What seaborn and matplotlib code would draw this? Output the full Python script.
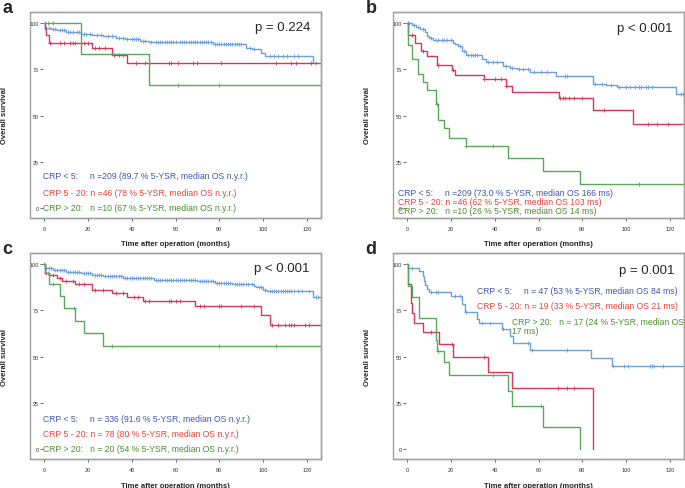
"""
Kaplan-Meier Kurven nach CRP-Gruppen (4 Panels)
"""
import numpy as np
import pandas as pd
import matplotlib
matplotlib.use("Agg")
import matplotlib.pyplot as plt
from matplotlib.patches import Rectangle
import seaborn as sns

# ---- Daten ----
groups = ["CRP < 5", "CRP 5 - 20", "CRP > 20"]

# Panel a
a_lt5_t = [0.5, 3, 6, 10, 17, 22, 27, 33, 37, 44, 48, 77, 92, 95, 99, 101, 123]
a_lt5_s = [97.5, 96.8, 96, 95.2, 94.3, 93.6, 92.8, 92, 91.3, 90.5, 90, 88.8, 86.8, 85.8, 84, 82, 78.5]
a_lt5_c = [1, 2, 4, 5, 7, 8, 9, 11, 12, 13, 15, 16, 18, 19, 21, 24, 26, 29, 31, 34, 36, 38, 40, 41,
           42, 43, 45, 46, 49, 51, 52, 53, 54, 55, 56, 57, 58, 59, 60, 62, 63, 64, 65, 66, 67, 68,
           69, 70, 71, 72, 73, 74, 75, 76, 78, 79, 80, 81, 82, 83, 84, 85, 86, 87, 88, 89, 90, 94,
           96, 103, 105, 107, 109, 111, 114, 116, 124]
a_lt5_end = 124
a_mid_t = [0.3, 1, 2, 22, 31, 38]
a_mid_s = [97, 93.5, 89, 86.7, 82.6, 78.5]
a_mid_c = [2.5, 7, 9, 12, 13, 14, 18, 20, 23, 25, 28, 32, 34, 36, 42, 46, 48, 57, 58, 61, 68, 70,
           81, 106, 113, 115, 122]
a_mid_end = 130
a_gt20_t = [17, 48]
a_gt20_s = [83.3, 66.7]
a_gt20_c = [0.5, 1.5, 4, 61, 80]
a_gt20_end = 130

# Panel b
b_lt5_t = [2, 4, 6, 8, 9, 10, 12, 21, 22, 23, 25, 27, 34, 36, 44, 47, 50, 56, 68, 85, 91, 96, 123]
b_lt5_s = [99, 98, 97, 95, 93, 92, 90.8, 89.5, 88.5, 87.5, 85, 82.5, 80.5, 78.7, 77, 75.5, 75,
           73.6, 71.5, 67.3, 66.5, 65.2, 61.5]
b_lt5_c = [0.5, 1, 3, 5, 7, 11, 13, 14, 16, 17, 18, 20, 24, 26, 28, 29, 30, 31, 32, 37, 39, 41, 45,
           48, 51, 53, 55, 58, 61, 64, 72, 73, 86, 89, 93, 97, 100, 102, 104, 106, 107, 109, 110,
           112, 125, 126]
b_lt5_end = 130
b_mid_t = [0.5, 3.5, 6.5, 9, 13.5, 20.5, 22, 35, 45, 48, 69.5, 85, 103]
b_mid_s = [93.5, 89, 84.7, 82.3, 77.5, 74.6, 72, 69.5, 65.8, 62.9, 59.5, 53, 45.2]
b_mid_c = [2, 7, 14, 21, 35, 40, 43, 45, 70, 71, 72, 74, 76, 80, 90, 110, 114, 119]
b_mid_end = 130
b_gt20_t = [0.5, 2, 5, 7, 9, 13, 14, 17, 19, 27, 46, 62, 79]
b_gt20_s = [88, 80.5, 72.5, 68, 64, 56, 47.5, 43, 38, 33.5, 27, 20, 13]
b_gt20_c = [13.5, 27, 39, 106]
b_gt20_end = 130

# Panel c
c_lt5_t = [0.5, 4, 10, 17, 22, 27, 36, 50, 70, 78, 86, 96, 97, 100, 102, 123]
c_lt5_s = [98, 96.9, 95.9, 95, 94.1, 93.5, 92.4, 91.5, 90.6, 89.9, 89.2, 88.3, 87.4, 86.1, 85.4, 82]
c_lt5_c = [1, 2, 3, 5, 6, 7, 8, 9, 11, 12, 13, 14, 15, 16, 18, 19, 20, 21, 23, 24, 25, 26, 28, 29,
           30, 31, 32, 33, 34, 35, 37, 38, 39, 40, 41, 42, 43, 44, 45, 46, 47, 48, 49, 51, 52, 53,
           54, 55, 56, 57, 58, 59, 60, 61, 62, 63, 64, 65, 66, 67, 68, 69, 71, 72, 73, 74, 75, 76,
           77, 79, 80, 81, 82, 83, 84, 85, 87, 88, 89, 90, 91, 92, 93, 95, 98, 99, 101, 103, 104,
           105, 106, 107, 108, 109, 110, 111, 112, 113, 114, 116, 118, 121, 124, 125]
c_lt5_end = 130
c_mid_t = [0.5, 2, 6, 8, 14, 22, 31, 38, 45, 69, 99, 103]
c_mid_s = [95, 94, 92.5, 91, 89.5, 86, 84.1, 82, 80, 77.1, 72.4, 67.2]
c_mid_c = [1, 4, 7, 10, 13, 16, 18, 23, 27, 33, 36, 41, 43, 46, 48, 57, 58, 60, 62, 71, 73, 80, 81,
           90, 96, 104, 107, 110, 112, 113, 114, 119, 121]
c_mid_end = 130
c_gt20_t = [0.5, 2, 7, 9, 14, 18, 27]
c_gt20_s = [95, 89, 82.5, 76.2, 69.4, 62.5, 55.5]
c_gt20_c = [0, 1.5, 4, 13.5, 31, 80, 106]
c_gt20_end = 130

# Panel d
d_lt5_t = [0.2, 5.5, 7, 7.5, 8.3, 9, 10, 20, 25, 26.5, 32, 33, 43.5, 47, 48.5, 56, 84, 93.5]
d_lt5_s = [97.9, 96.4, 93.3, 91, 88.8, 86.5, 85, 82.5, 78.4, 73.9, 70.3, 67.9, 64.9, 61.3, 57.1,
           53.5, 49.2, 44.7]
d_lt5_c = [2, 11, 13, 14, 22, 24, 27, 34, 38, 44, 55, 57, 73, 94, 99, 101, 111, 112, 113, 117]
d_lt5_end = 130
d_mid_t = [0.5, 1.5, 2.3, 3, 7, 14.5, 21, 37, 48, 85]
d_mid_s = [89.5, 78.9, 73.7, 68.4, 63.2, 56.8, 49.7, 41.4, 33.1, 0]
d_mid_c = [11, 13, 20.3, 35, 69, 73, 76]
d_mid_end = 85
d_gt20_t = [0.3, 2.4, 5.2, 13, 13.8, 17, 19, 46, 48, 62, 79]
d_gt20_s = [88.2, 82.4, 70.6, 58.8, 52.9, 47.1, 40, 31.6, 23.5, 11.8, 0]
d_gt20_c = [14, 39, 61]
d_gt20_end = 79

# Legendentexte
a_labels = ["CRP < 5:     n =209 (89.7 % 5-YSR, median OS n.y.r.)",
            "CRP 5 - 20: n =46 (78 % 5-YSR, median OS n.y.r.)",
            "CRP > 20:   n =10 (67 % 5-YSR, median OS n.y.r.)"]
b_labels = ["CRP < 5:     n =209 (73.0 % 5-YSR, median OS 166 ms)",
            "CRP 5 - 20: n =46 (62 % 5-YSR, median OS 103 ms)",
            "CRP > 20:   n =10 (26 % 5-YSR, median OS 14 ms)"]
c_labels = ["CRP < 5:     n = 336 (91.6 % 5-YSR, median OS n.y.r.)",
            "CRP 5 - 20: n = 78 (80 % 5-YSR, median OS n.y.r.)",
            "CRP > 20:   n = 20 (54 % 5-YSR, median OS n.y.r.)"]
d_labels = ["CRP < 5:     n = 47 (53 % 5-YSR, median OS 84 ms)",
            "CRP 5 - 20: n = 19 (33 % 5-YSR, median OS 21 ms)",
            "CRP > 20:   n = 17 (24 % 5-YSR, median OS\n17 ms)"]
p_values = ["p = 0.224", "p < 0.001", "p < 0.001", "p = 0.001"]
x_ticks = [0, 20, 40, 60, 80, 100, 120]
y_ticks = [0, 25, 50, 75, 100]

line_colors = ["#6f9fd9", "#d9365c", "#5aa85a"]
text_colors = ["#4355ae", "#e8423a", "#4e8d34"]


def km_frame(times, surv, end):
    t = [0] + list(times) + [end]
    s = [100] + list(surv) + [surv[-1]]
    return pd.DataFrame({"time": t, "surv": s})


def censor_frame(times, surv, cens):
    t_arr = np.array(times)
    s_arr = np.array([100] + list(surv))
    idx = np.searchsorted(t_arr, np.array(cens), side="right")
    return pd.DataFrame({"time": cens, "surv": s_arr[idx]})


def draw_panel(ax, curves, labels, text_pos, pval, letter, xlab_y):
    for (t, s, c, end), col in zip(curves, line_colors):
        df = km_frame(t, s, end)
        sns.lineplot(data=df, x="time", y="surv", ax=ax, color=col, lw=1.0,
                     drawstyle="steps-post", estimator=None, sort=False)
        cf = censor_frame(t, s, c)
        ax.plot(cf["time"], cf["surv"], ls="none", marker="+", ms=3.2, mew=0.6, color=col)
    ax.set_xlim(-6.5, 126.5)
    ax.set_ylim(-5.4, 106)
    ax.set_xticks(x_ticks)
    ax.set_yticks(y_ticks)
    ax.tick_params(labelsize=4, length=2, width=0.5, colors="#333333", pad=1.5)
    ax.tick_params(axis="x", pad=4)
    # y-Achse sitzt innerhalb des Rahmens (SPSS-Stil)
    ax.spines["left"].set_position(("data", -0.4))
    ax.spines["left"].set_visible(False)
    for side in ["top", "right", "bottom"]:
        ax.spines[side].set_visible(True)
        ax.spines[side].set_color("#a0a0a0")
        ax.spines[side].set_linewidth(1.0)
    ax.add_patch(Rectangle((0, 0), 1, 1, transform=ax.transAxes, fill=False,
                           edgecolor="#a0a0a0", lw=1.0, clip_on=False, zorder=5))
    ax.set_xlabel("Time after operation (months)", fontsize=5.5, fontweight="bold")
    ax.set_ylabel("Overall survival", fontsize=5.5, fontweight="bold", va="center")
    ax.xaxis.set_label_coords(0.5, xlab_y)
    ax.yaxis.set_label_coords(-0.086, 0.5)
    for lab, col, (x, y) in zip(labels, text_colors, text_pos):
        ax.text(x, y, lab, transform=ax.transAxes, color=col, fontsize=6.2, va="center", ha="left",
                linespacing=1.1)
    ax.text(pval[1], pval[2], pval[0], transform=ax.transAxes, fontsize=9.5, ha="right", va="center")
    ax.text(-0.095, 1.02, letter, transform=ax.transAxes, fontsize=13, fontweight="bold",
            ha="left", va="center")


def main():
    sns.set_theme(style="ticks")
    plt.rcParams["font.family"] = ["Liberation Sans", "DejaVu Sans"]

    fig = plt.figure(figsize=(6.85, 4.89), dpi=100)
    w, h = 291 / 685, 206 / 489
    ax_a = fig.add_axes([30 / 685, 270 / 489, w, h])
    ax_b = fig.add_axes([393 / 685, 270 / 489, w, h])
    ax_c = fig.add_axes([30 / 685, 29 / 489, w, h])
    ax_d = fig.add_axes([393 / 685, 29 / 489, w, h])

    draw_panel(ax_a,
               [(a_lt5_t, a_lt5_s, a_lt5_c, a_lt5_end),
                (a_mid_t, a_mid_s, a_mid_c, a_mid_end),
                (a_gt20_t, a_gt20_s, a_gt20_c, a_gt20_end)],
               a_labels, [(0.045, 0.204), (0.045, 0.126), (0.045, 0.053)],
               (p_values[0], 0.962, 0.927), "a", -0.107)
    draw_panel(ax_b,
               [(b_lt5_t, b_lt5_s, b_lt5_c, b_lt5_end),
                (b_mid_t, b_mid_s, b_mid_c, b_mid_end),
                (b_gt20_t, b_gt20_s, b_gt20_c, b_gt20_end)],
               b_labels, [(0.018, 0.125), (0.018, 0.081), (0.018, 0.035)],
               (p_values[1], 0.961, 0.922), "b", -0.107)
    draw_panel(ax_c,
               [(c_lt5_t, c_lt5_s, c_lt5_c, c_lt5_end),
                (c_mid_t, c_mid_s, c_mid_c, c_mid_end),
                (c_gt20_t, c_gt20_s, c_gt20_c, c_gt20_end)],
               c_labels, [(0.044, 0.199), (0.044, 0.126), (0.044, 0.052)],
               (p_values[2], 0.962, 0.926), "c", -0.112)
    draw_panel(ax_d,
               [(d_lt5_t, d_lt5_s, d_lt5_c, d_lt5_end),
                (d_mid_t, d_mid_s, d_mid_c, d_mid_end),
                (d_gt20_t, d_gt20_s, d_gt20_c, d_gt20_end)],
               d_labels, [(0.289, 0.817), (0.289, 0.744), (0.409, 0.645)],
               (p_values[3], 0.966, 0.919), "d", -0.112)

    fig.savefig("out.png", dpi=100)


if __name__ == "__main__":
    main()
